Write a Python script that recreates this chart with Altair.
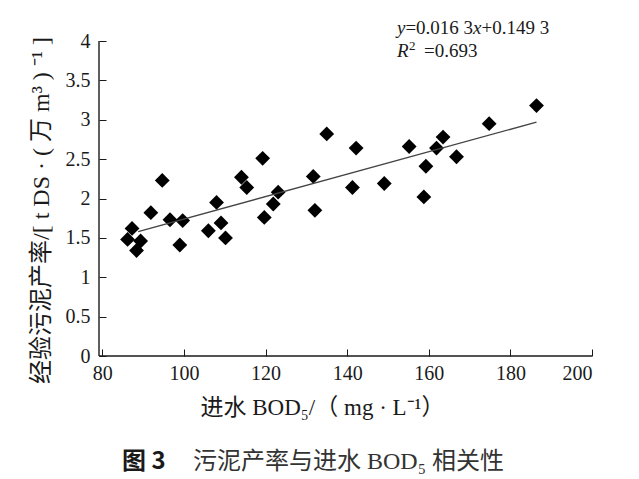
import altair as alt
import pandas as pd

# Data
bod = [86.2, 87.3, 88.4, 89.4, 91.9, 94.7, 96.6, 99.7, 99.0, 106.0, 108.0,
       109.1, 110.2, 114.1, 115.4, 119.3, 119.7, 121.9, 123.1, 131.7, 132.1,
       135.0, 141.3, 142.2, 149.1, 155.2, 158.8, 159.3, 161.9, 163.5, 166.8,
       174.8, 186.4]
rate = [1.48, 1.62, 1.34, 1.46, 1.82, 2.23, 1.73, 1.72, 1.41, 1.59, 1.95,
        1.69, 1.50, 2.27, 2.14, 2.51, 1.76, 1.93, 2.08, 2.28, 1.85,
        2.82, 2.14, 2.64, 2.19, 2.66, 2.02, 2.41, 2.64, 2.78, 2.53,
        2.95, 3.18]
fit_x = [88.8, 186.4]
fit_y = [1.58, 2.97]
x_ticks = [80, 100, 120, 140, 160, 180, 200]
y_ticks = [0, 0.5, 1, 1.5, 2, 2.5, 3, 3.5, 4]

W, H = 493, 315
SERIF = "Liberation Serif, Noto Sans CJK SC"
INK = "#1a1a1a"

pts = pd.DataFrame({"bod": bod, "rate": rate})
fit = pd.DataFrame({"bod": fit_x, "rate": fit_y})
one = pd.DataFrame({"k": [0]})

xscale = alt.Scale(domain=[79.2, 200], nice=False, zero=False)
yscale = alt.Scale(domain=[0, 4], nice=False)

xaxis = alt.Axis(values=x_ticks, domain=False, grid=False, tickSize=7, offset=-7,
                 tickColor=INK, labelPadding=7, labelFont=SERIF, labelFontSize=20,
                 labelColor=INK, labelOverlap=False,
                 title="进水 BOD₅/（ mg · L⁻¹）", titleFont=SERIF,
                 titleFontSize=23, titleFontWeight="normal", titleColor=INK,
                 titleX=223, titleY=58, titleBaseline="middle", titleAlign="center")
yaxis = alt.Axis(values=y_ticks, format="~g", domain=False, grid=False, tickSize=7,
                 offset=-7, tickColor=INK, labelPadding=9, labelFont=SERIF,
                 labelFontSize=20, labelColor=INK, labelOverlap=False,
                 title="经验污泥产率/[ t DS · ( 万 m³ ) ⁻¹ ]",
                 titleFont=SERIF, titleFontSize=24, titleFontWeight="normal",
                 titleColor=INK, titleX=-65, titleY=169, titleBaseline="middle",
                 titleAlign="center", titleAngle=-90)

points = alt.Chart(pts).mark_point(shape="diamond", filled=True, size=220,
                                   color="#000000", opacity=1).encode(
    x=alt.X("bod:Q", scale=xscale, axis=xaxis),
    y=alt.Y("rate:Q", scale=yscale, axis=yaxis),
)

line = alt.Chart(fit).mark_line(color="#444444", strokeWidth=1.4).encode(
    x=alt.X("bod:Q", scale=xscale, axis=xaxis),
    y=alt.Y("rate:Q", scale=yscale, axis=yaxis),
)

left_rule = alt.Chart(one).mark_rule(color=INK, strokeWidth=1.4).encode(
    x=alt.value(0), y=alt.value(0), y2=alt.value(H))
bottom_rule = alt.Chart(one).mark_rule(color=INK, strokeWidth=1.4).encode(
    x=alt.value(0), x2=alt.value(W), y=alt.value(H))


def label(txt, x, y, size, font=SERIF, color=INK, **kw):
    return alt.Chart(one).mark_text(text=txt, fontSize=size, font=font,
                                    align="left", baseline="alphabetic",
                                    color=color, **kw).encode(
        x=alt.value(x), y=alt.value(y))


eq = [
    label("y", 298, -7, 19, fontStyle="italic"),
    label("=0.016 3", 306.4, -7, 19),
    label("x", 374.1, -7, 19, fontStyle="italic"),
    label("+0.149 3", 382.5, -7, 19),
    label("R", 298, 16, 19, fontStyle="italic"),
    label("2", 310, 9, 13),
    label("=0.693", 325, 16, 19),
]

caption = [
    label("图 3", 23, 428, 24, font="Noto Sans CJK SC", fontWeight="bold"),
    label("污泥产率与进水 BOD₅ 相关性", 94, 428, 24, color="#333333"),
]

chart = alt.layer(points, line, left_rule, bottom_rule, *eq, *caption).properties(
    width=W, height=H,
    autosize=alt.AutoSizeParams(type="none"),
    padding={"left": 99, "top": 41, "right": 47, "bottom": 123},
    background="white",
).configure_view(stroke=None)

chart.save("out.html", embed_options={"renderer": "svg", "actions": False})
